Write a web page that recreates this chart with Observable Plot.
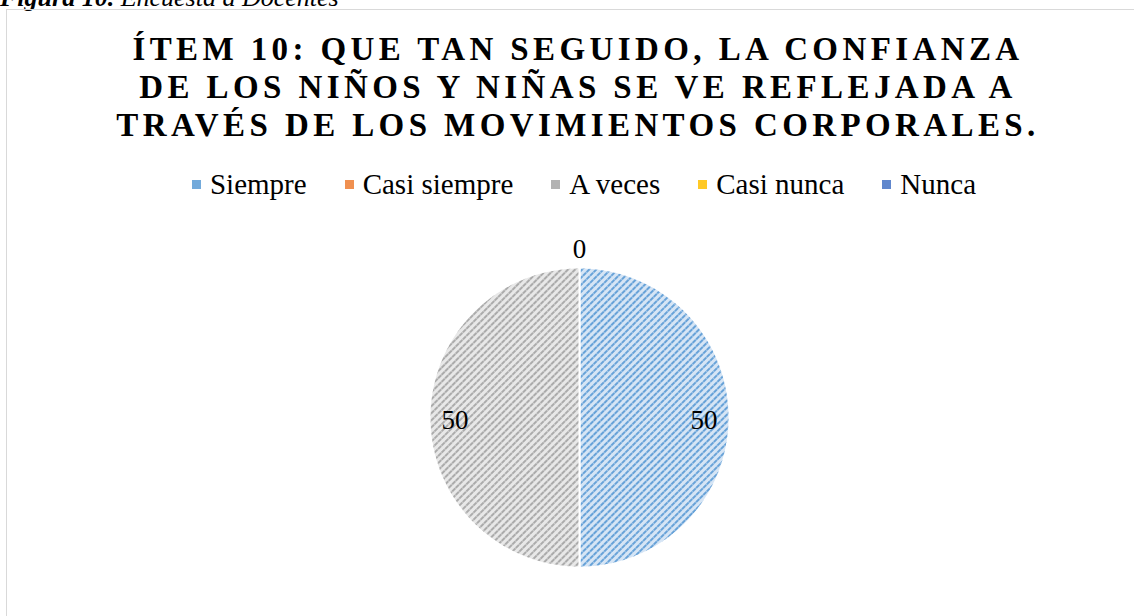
<!DOCTYPE html>
<html><head><meta charset="utf-8">
<script src="https://cdn.jsdelivr.net/npm/d3@7"></script>
<script src="https://cdn.jsdelivr.net/npm/@observablehq/plot@0.6"></script>
<style>
body{margin:0;background:#fff;width:1134px;height:616px;overflow:hidden;position:relative;font-family:'Liberation Serif',serif;color:#000;}
#caption{position:absolute;left:0;top:-18px;font-size:26px;font-style:italic;white-space:nowrap;line-height:1.2;font-family:'Liberation Serif',serif;}
#frame{position:absolute;left:6px;top:9px;width:1140px;height:700px;border:1.5px solid #d9d9d9;box-sizing:border-box;}
.tl{position:absolute;left:0;width:1156px;text-align:center;font-weight:bold;font-size:33px;letter-spacing:4.4px;white-space:nowrap;line-height:1;font-family:'Liberation Serif',serif;}
#legend{position:absolute;top:167px;left:0;width:1168px;display:flex;justify-content:center;gap:38px;font-size:29px;line-height:1.2;white-space:nowrap;font-family:'Liberation Serif',serif;}
.li{display:flex;align-items:center;}
.sw{width:9px;height:9px;margin-right:9px;}
#chart{position:absolute;left:0;top:220px;}
</style></head>
<body>
<svg width="0" height="0" style="position:absolute">
  <defs id="defs"></defs>
</svg>
<div id="caption"><b>Figura 10.</b> Encuesta a Docentes</div>
<div id="frame"></div>
<div id="title"></div>
<div id="legend"></div>
<div id="chart"></div>
<script>
const titleLines = ["ÍTEM 10: QUE TAN SEGUIDO, LA CONFIANZA", "DE LOS NIÑOS Y NIÑAS SE VE REFLEJADA A", "TRAVÉS DE LOS MOVIMIENTOS CORPORALES."];
const categories = ["Siempre", "Casi siempre", "A veces", "Casi nunca", "Nunca"];
const values = [50, 0, 50, 0, 0];
const colors = ["#5b9bd5", "#ed7d31", "#a5a5a5", "#ffc000", "#4472c4"];
const lightColors = ["#d6e5f5", "#fbe2d3", "#e8e8e8", "#fff2cc", "#d7e1f3"];

// hatch patterns (wide upward diagonal)
const defs = d3.select("#defs");
colors.forEach((c, i) => {
  const p = defs.append("pattern").attr("id", "pat" + i).attr("patternUnits", "userSpaceOnUse")
    .attr("width", 5).attr("height", 5).attr("patternTransform", "rotate(45)");
  p.append("rect").attr("width", 5).attr("height", 5).attr("fill", lightColors[i]);
  p.append("line").attr("x1", 1).attr("x2", 1).attr("y1", 0).attr("y2", 5)
    .attr("stroke", c).attr("stroke-width", 1.8).attr("stroke-dasharray", "2.2 0.6");
});
const urls = categories.map((d, i) => `url(#pat${i})`);

// title
const tops = [33, 71, 109];
titleLines.forEach((t, i) => {
  d3.select("#title").append("div").attr("class", "tl").style("top", tops[i] + "px").text(t);
});

// legend
categories.forEach((c, i) => {
  const it = d3.select("#legend").append("div").attr("class", "li");
  it.append("div").attr("class", "sw").style("background-color", colors[i]).style("opacity", 0.85);
  it.append("span").text(c);
});

// pie geometry
const arcs = d3.pie().sort(null).value(d => d)(values);
const slices = [];
arcs.forEach((a, i) => {
  if (a.endAngle <= a.startAngle) return;
  const cat = categories[i];
  slices.push({cat, x: 0, y: 0});
  const n = Math.ceil((a.endAngle - a.startAngle) / 0.01);
  for (let k = 0; k <= n; k++) {
    const t = a.startAngle + (a.endAngle - a.startAngle) * k / n;
    slices.push({cat, x: Math.sin(t), y: Math.cos(t)});
  }
  slices.push({cat, x: 0, y: 0});
});
const labels = arcs.map((a, i) => {
  const mid = (a.startAngle + a.endAngle) / 2;
  const r = values[i] > 0 ? 0.83 : 1.14;
  return {cat: categories[i], v: values[i], x: r * Math.sin(mid), y: r * Math.cos(mid), show: values[i] > 0 || i === values.length - 1};
}).filter(d => d.show);

const R = 150, W = 1134, H = 396, cx = 579, cy = 197;
const plot = Plot.plot({
  width: W, height: H,
  margin: 0,
  x: {domain: [-cx / R, (W - cx) / R], axis: null},
  y: {domain: [-(H - cy) / R, cy / R], axis: null},
  color: {type: "ordinal", domain: categories, range: urls},
  style: {background: "transparent", fontFamily: "'Liberation Serif', serif"},
  marks: [
    Plot.line(slices, {x: "x", y: "y", z: "cat", fill: "cat", stroke: "white", strokeWidth: 2, strokeLinejoin: "miter", curve: "linear"}),
    Plot.text(labels, {x: "x", y: "y", text: d => String(d.v), fontSize: 27, fill: "black", dy: 3})
  ]
});
document.getElementById("chart").appendChild(plot);
</script>
</body></html>
